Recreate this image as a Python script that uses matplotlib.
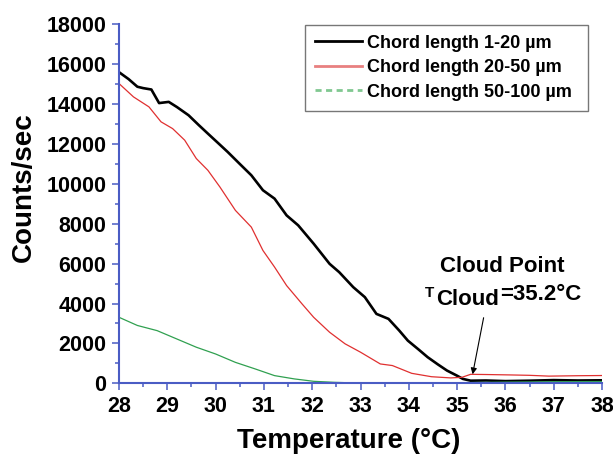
import matplotlib
matplotlib.use("Agg")
import matplotlib.pyplot as plt
from matplotlib.ticker import MultipleLocator

plt.rcParams['font.family'] = ['Liberation Sans', 'DejaVu Sans']
plt.rcParams['font.weight'] = 'bold'

# ---- data ----
t_black = [28.0, 28.2, 28.38, 28.5, 28.67, 28.83, 29.03, 29.2, 29.44, 29.65, 29.84, 30.05, 30.25,
           30.5, 30.74, 30.98, 31.22, 31.47, 31.71, 32.03, 32.36, 32.56, 32.85, 33.09, 33.33,
           33.58, 33.8, 33.98, 34.2, 34.39, 34.6, 34.79, 35.0, 35.12, 35.28, 35.6, 36.0, 36.5,
           37.0, 37.5, 38.0]
c_black = [15600, 15250, 14870, 14800, 14730, 14050, 14110, 13850, 13440, 12950, 12520, 12050, 11600,
           11000, 10430, 9680, 9260, 8420, 7920, 7000, 5990, 5570, 4820, 4320, 3480,
           3230, 2650, 2140, 1700, 1310, 950, 640, 380, 220, 130, 140, 110, 130,
           160, 140, 150]

t_red = [28.0, 28.3, 28.62, 28.87, 29.11, 29.36, 29.6, 29.84, 30.09, 30.41, 30.74, 30.98, 31.22,
         31.47, 31.79, 32.03, 32.36, 32.68, 33.0, 33.41, 33.66, 34.06, 34.47, 34.87, 35.1,
         35.28, 35.6, 36.09, 36.5, 36.9, 37.5, 38.0]
c_red = [15030, 14360, 13860, 13110, 12770, 12190, 11270, 10680, 9840, 8670, 7830, 6660, 5830,
         4900, 3980, 3310, 2560, 1980, 1560, 970, 890, 500, 330, 270, 300,
         450, 440, 420, 400, 360, 380, 390]

t_green = [28.0, 28.38, 28.79, 29.19, 29.6, 30.0, 30.41, 30.82, 31.22, 31.63, 32.03, 32.45,
           32.85, 33.66, 34.5, 35.3, 36.0, 37.0, 38.0]
c_green = [3310, 2900, 2640, 2230, 1810, 1470, 1050, 720, 385, 220, 100, 50,
           20, 0, 10, 40, 60, 80, 90]

labels = ["Chord length 1-20 \u00b5m", "Chord length 20-50 \u00b5m", "Chord length 50-100 \u00b5m"]
x_ticks = list(range(28, 39))
y_ticks = list(range(0, 18001, 2000))

W, H = 613, 454
fig = plt.figure(figsize=(W / 100, H / 100), dpi=100)
ax = fig.add_axes([119 / W, 1 - 383.3 / H, (602 - 119) / W, (383.3 - 24.3) / H])

ax.plot(t_black, c_black, color='black', lw=1.9, label=labels[0])
ax.plot(t_red, c_red, color='#e03030', lw=0.9, label=labels[1])
ax.plot(t_green, c_green, color='#30a050', lw=0.9, label=labels[2])

ax.set_xlim(28, 38)
ax.set_ylim(0, 18000)
ax.set_xticks(x_ticks)
ax.set_yticks(y_ticks)
ax.xaxis.set_minor_locator(MultipleLocator(0.5))
ax.yaxis.set_minor_locator(MultipleLocator(1000))

blue = '#4a5cc4'
for s in ['top', 'right']:
    ax.spines[s].set_visible(False)
for s in ['left', 'bottom']:
    ax.spines[s].set_color(blue)
    ax.spines[s].set_linewidth(1.5)
ax.tick_params(which='major', length=5, width=1.1, color=blue, labelsize=15.5, pad=4)
ax.tick_params(which='minor', length=3, width=1.1, color=blue)
for lab in ax.get_xticklabels() + ax.get_yticklabels():
    lab.set_fontweight('bold')

bx0 = (304.7 - 119) / 483
by0 = (383.3 - 104) / 359
bw = (588 - 304.7) / 483
bh = (104 - 24.7) / 359
leg = ax.legend(loc='upper left', bbox_to_anchor=(bx0, by0, bw, bh),
                mode='expand', frameon=True, fancybox=False, edgecolor='#555555',
                prop={'size': 13, 'weight': 'bold'}, handlelength=2.6, handletextpad=0.3,
                labelspacing=0.42, borderpad=0.55, borderaxespad=0)
leg.get_frame().set_linewidth(1.0)
for h in leg.get_lines():
    h.set_linewidth(2.0)
leg.get_lines()[1].set_color('#e88080')
leg.get_lines()[2].set_color('#80c890')
leg.get_lines()[2].set_linestyle((0, (2.2, 1.6)))

fig.text(349 / W, 1 - 441 / H, "Temperature (\u00b0C)", fontsize=20, fontweight='bold',
         ha='center', va='center')
fig.text(24 / W, 1 - 187 / H, "Counts/sec", fontsize=20, fontweight='bold',
         ha='center', va='center', rotation=90)

fig.text(502 / W, 1 - 271.7 / H, "Cloud Point", fontsize=16, fontweight='bold',
         ha='center', va='baseline')
fig.text(425 / W, 1 - 296.7 / H, "T", fontsize=11, fontweight='bold', ha='left', va='baseline')
fig.text(436 / W, 1 - 305 / H, "Cloud", fontsize=16, fontweight='bold', ha='left', va='baseline')
fig.text(500 / W, 1 - 300 / H, "=35.2\u00b0C", fontsize=16, fontweight='bold', ha='left', va='baseline')

ax.annotate("", xy=(35.31, 316), xytext=(35.56, 3425),
            arrowprops=dict(arrowstyle='-|>', color='black', lw=0.8, mutation_scale=9))

fig.savefig("out.png", dpi=100)
